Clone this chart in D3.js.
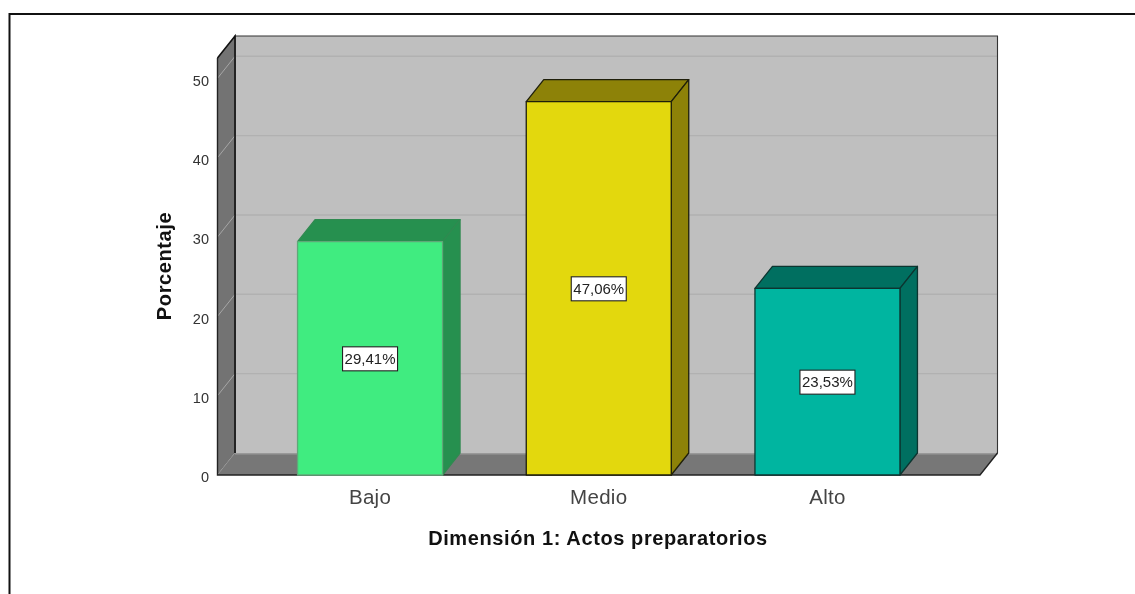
<!DOCTYPE html>
<html><head><meta charset="utf-8">
<script src="https://cdn.jsdelivr.net/npm/d3@7"></script>
<style>html,body{margin:0;padding:0;background:#fff}svg{display:block;filter:blur(0.35px)}text{font-family:"Liberation Sans",Arial,sans-serif}</style>
</head><body><div id="c"></div>
<script>
const categories = ["Bajo","Medio","Alto"];
const values = [29.41,47.06,23.53];
const valueLabels = ["29,41%","47,06%","23,53%"];
const yTicks = [0,10,20,30,40,50];
const faceColors = ["#40EC80","#E3D80D","#00B5A0"];
const sideColors = ["#26904F","#8D8208","#006F60"];
const edgeColors = ["#2F8A50","#1f1f0a","#0c3530"];
const xTitle = "Dimensión 1: Actos preparatorios";
const yTitle = "Porcentaje";

const W=1135,H=594,dx=17.5,dy=-22;
const svg=d3.select("#c").append("svg").attr("width",W).attr("height",H);
const x=d3.scaleBand().domain(categories).range([217.5,980]).paddingInner(0.366).paddingOuter(0.35);
const y=d3.scaleLinear().domain([0,50]).range([475,78.3]);
const yMax=y.invert(58);
const poly=(pts,fill,stroke,sw)=>svg.append("polygon").attr("points",pts.map(p=>p.join(",")).join(" ")).attr("fill",fill).attr("stroke",stroke||"none").attr("stroke-width",sw||0).attr("stroke-linejoin","round");
// frame
svg.append("path").attr("d",`M9.5,${H} V14 H${W}`).attr("fill","none").attr("stroke","#111").attr("stroke-width",2);
const xL=x.range()[0],xR=x.range()[1],y0=y(0),yT=y(yMax);
// back wall
poly([[xL+dx,yT+dy],[xR+dx,yT+dy],[xR+dx,y0+dy],[xL+dx,y0+dy]],"#BFBFBF");
// back gridlines
svg.selectAll(".g").data(yTicks.slice(1)).join("line").attr("x1",xL+dx).attr("x2",xR+dx).attr("y1",d=>y(d)+dy).attr("y2",d=>y(d)+dy).attr("stroke","#B1B1B1").attr("stroke-width",1.4);
// wall outline
svg.append("path").attr("d",`M${xL+dx},${y0+dy} V${yT+dy} H${xR+dx} V${y0+dy}`).attr("fill","none").attr("stroke","#333").attr("stroke-width",1.1);
// left wall
poly([[xL,yT],[xL+dx,yT+dy],[xL+dx,y0+dy],[xL,y0]],"#737373");
svg.selectAll(".sg").data(yTicks).join("line").attr("x1",xL).attr("x2",xL+dx).attr("y1",d=>y(d)).attr("y2",d=>y(d)+dy).attr("stroke","#A6A6A6").attr("stroke-width",1);
// floor
poly([[xL,y0],[xL+dx,y0+dy],[xR+dx,y0+dy],[xR,y0]],"#777777");
svg.append("line").attr("x1",xL+dx).attr("x2",xR+dx).attr("y1",y0+dy+0.8).attr("y2",y0+dy+0.8).attr("stroke","#999").attr("stroke-width",1.6);
svg.append("path").attr("d",`M${xL},${yT} L${xL+dx},${yT+dy} V${y0+dy}`).attr("fill","none").attr("stroke","#111").attr("stroke-width",1.6);
svg.append("path").attr("d",`M${xL},${yT} V${y0} H${xR} L${xR+dx},${y0+dy}`).attr("fill","none").attr("stroke","#222").attr("stroke-width",1.4);
// bars
categories.forEach((c,i)=>{
  const a=x(c),b=a+x.bandwidth(),t=y(values[i]),e=edgeColors[i],sw=1.3;
  poly([[a,t],[a+dx,t+dy],[b+dx,t+dy],[b,t]],sideColors[i],e,sw);
  poly([[b,t],[b+dx,t+dy],[b+dx,y0+dy],[b,y0]],sideColors[i],e,sw);
  poly([[a,t],[b,t],[b,y0],[a,y0]],faceColors[i],i==0?"#5FA878":e,sw);
  const cx=(a+b)/2,cy=y(values[i]/2)+0.5;
  svg.append("rect").attr("x",cx-27.5).attr("y",cy-12).attr("width",55).attr("height",24).attr("fill","#fff").attr("stroke","#222").attr("stroke-width",1.1);
  svg.append("text").attr("x",cx).attr("y",cy+5).attr("text-anchor","middle").attr("font-size",15).attr("fill","#222").text(valueLabels[i]);
  svg.append("text").attr("x",cx).attr("y",504).attr("text-anchor","middle").attr("font-size",20.5).attr("letter-spacing",0.3).attr("fill","#444").text(c);
});
// y ticks
svg.selectAll(".yt").data(yTicks).join("text").attr("x",209).attr("y",d=>y(d)+(d===0?6.5:7.5)).attr("text-anchor","end").attr("font-size",14.5).attr("fill","#333").text(d=>d);
svg.append("text").attr("x",598).attr("y",545).attr("text-anchor","middle").attr("font-size",20).attr("letter-spacing",0.6).attr("font-weight","bold").attr("fill","#111").text(xTitle);
svg.append("text").attr("transform","translate(171,266) rotate(-90)").attr("text-anchor","middle").attr("font-size",20).attr("letter-spacing",0.6).attr("font-weight","bold").attr("fill","#111").text(yTitle);
</script></body></html>
